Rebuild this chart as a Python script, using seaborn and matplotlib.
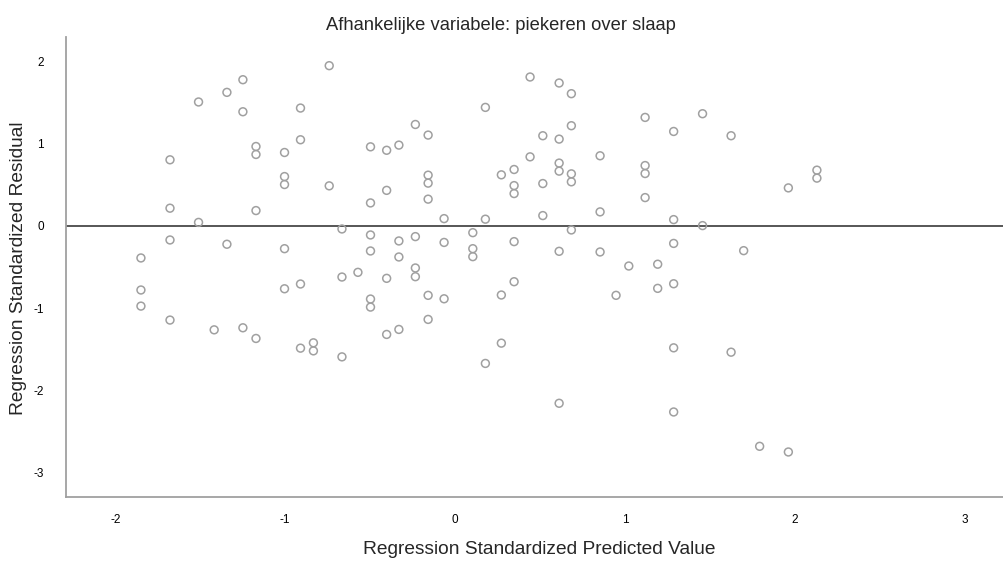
import matplotlib
matplotlib.use("Agg")
import matplotlib.pyplot as plt
import seaborn as sns
import pandas as pd

# Predicted values (x columns) and their residuals
pred_cols = [-1.849, -1.678, -1.510, -1.418, -1.343, -1.249, -1.172, -1.004, -0.910, -0.834,
             -0.741, -0.666, -0.572, -0.498, -0.403, -0.331, -0.234, -0.159, -0.065, 0.104,
             0.178, 0.272, 0.347, 0.441, 0.516, 0.612, 0.684, 0.853, 0.947, 1.022,
             1.118, 1.192, 1.286, 1.456, 1.624, 1.698, 1.792, 1.961, 2.129]
resid_groups = [
    [-0.390, -0.780, -0.976],
    [0.805, 0.216, -0.171, -1.146],
    [1.509, 0.043],
    [-1.265],
    [1.626, -0.223],
    [1.780, 1.390, -1.240],
    [0.967, 0.870, 0.187, -1.370],
    [0.894, 0.601, 0.504, -0.277, -0.765],
    [1.435, 1.049, -0.707, -1.488],
    [-1.423, -1.521],
    [1.951, 0.488],
    [-0.037, -0.622, -1.594],
    [-0.565],
    [0.963, 0.280, -0.110, -0.305, -0.890, -0.988],
    [0.921, 0.433, -0.638, -1.321],
    [0.984, -0.183, -0.378, -1.260],
    [1.235, -0.130, -0.512, -0.618],
    [1.106, 0.618, 0.521, 0.326, -0.845, -1.138],
    [0.089, -0.201, -0.887],
    [-0.082, -0.277, -0.374],
    [1.443, 0.082, -1.674],
    [0.622, -0.841, -1.427],
    [0.687, 0.491, 0.394, -0.191, -0.679],
    [1.813, 0.841],
    [1.098, 0.516, 0.126],
    [1.740, 1.057, 0.765, 0.667, -0.309, -2.159],
    [1.610, 1.220, 0.634, 0.537, -0.049],
    [0.854, 0.171, -0.317],
    [-0.845],
    [-0.488],
    [1.321, 0.735, 0.638, 0.345],
    [-0.466, -0.760],
    [1.150, 0.077, -0.213, -0.704, -1.484, -2.265],
    [1.366, 0.004],
    [1.098, -1.537],
    [-0.301],
    [-2.683],
    [0.463, -2.752],
    [0.679, 0.582],
]
x_ticks = [-2, -1, 0, 1, 2, 3]
y_ticks = [-3, -2, -1, 0, 1, 2]

title = "Afhankelijke variabele: piekeren over slaap"
x_label = "Regression Standardized Predicted Value"
y_label = "Regression Standardized Residual"

rows = []
for xv, ys in zip(pred_cols, resid_groups):
    for yv in ys:
        rows.append((xv, yv))
df = pd.DataFrame(rows, columns=["pred", "resid"])

sns.set_theme(style="white")
plt.rcParams['font.family'] = ['Liberation Sans', 'DejaVu Sans']
plt.rcParams['axes.unicode_minus'] = False

fig = plt.figure(figsize=(10.04, 5.61), dpi=100)
ax = fig.add_axes([66/1004, 64/561, 1 - 66/1004, (497-37)/561])

sns.scatterplot(data=df, x="pred", y="resid", ax=ax, marker="o", s=32,
                facecolors="none", edgecolor="#a0a0a0", linewidth=1.1, zorder=3)
ax.axhline(0, color="#3a3a3a", lw=1.2, zorder=2)

ax.set_xlim(-2.29, 3.23)
ax.set_ylim(-3.30, 2.30)
ax.set_xticks(x_ticks)
ax.set_yticks(y_ticks)
ax.tick_params(axis="both", length=0, labelsize=8.5, colors="#000000")
ax.tick_params(axis="x", pad=12)
ax.tick_params(axis="y", pad=16)

for s in ["top", "right"]:
    ax.spines[s].set_visible(False)
for s in ["left", "bottom"]:
    ax.spines[s].set_color("#a0a0a0")
    ax.spines[s].set_linewidth(1.3)

ax.set_xlabel("")
ax.set_ylabel("")
fig.text(539/1004, 1 - 549/561, x_label, ha="center", va="center", fontsize=13.8)
fig.text(19/1004, 1 - 268/561, y_label, ha="center", va="center", rotation=90, fontsize=13.8)
fig.text(501/1004, 1 - 30/561, title, ha="center", va="baseline", fontsize=13.2)

fig.savefig("out.png", dpi=100)
